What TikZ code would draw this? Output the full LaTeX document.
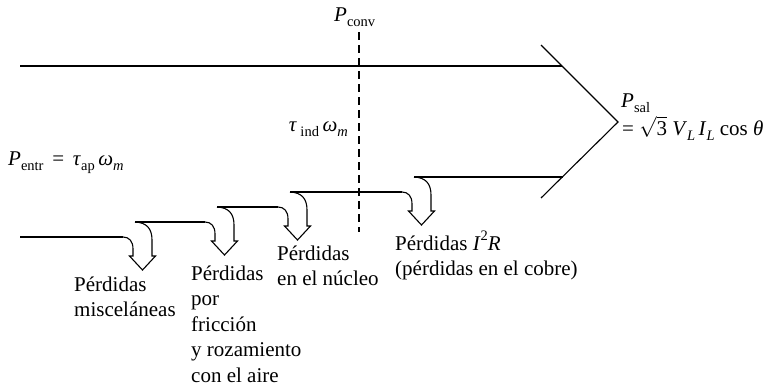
\documentclass[tikz,border=0pt]{standalone}
\usepackage{fontspec}
\setmainfont{Liberation Serif}
\newcommand\sbs[1]{\raisebox{-0.28em}{\fontsize{14.5}{14.5}\selectfont #1}}
\newcommand\sps[1]{\raisebox{0.45em}{\fontsize{14.5}{14.5}\selectfont #1}}
\newcommand\stacklines[1]{\vtop{\halign{##\hfil\cr #1\crcr}}}
\tikzset{
  lbl/.style={font=\fontsize{21}{25.5}\selectfont, inner sep=0pt},
  flow/.style={line width=1.1pt, line join=miter},
  conv/.style={line width=1.1pt, dash pattern=on 8pt off 5pt},
  loss/.pic={
    \draw[flow] (-10,15) .. controls (-4,15) and (0,19) .. (0,27) -- (0,34)
      -- (-3.5,34) -- (9.5,48) -- (22.5,34) -- (19,34) -- (19,18)
      .. controls (19,7) and (14,0.5) .. (2,0);
  }
}
\begin{document}
\begin{tikzpicture}[x=1pt, y=-1pt]
\useasboundingbox (0,0) rectangle (777,389);
% main flow
\coordinate (tl) at (20,66);
\coordinate (tr) at (562,66);
\coordinate (bl) at (20,237);
\coordinate (br) at (563,177);
\coordinate (hu) at (541,45);
\coordinate (ht) at (618,122);
\coordinate (hd) at (541,198);
\draw[flow] (tl) -- (tr);
\draw[flow] (hu) -- (ht) -- (hd);
% loss arrows
\pic at (133,222) {loss};
\pic at (215,207) {loss};
\pic at (288,192) {loss};
\pic at (412,177) {loss};
\draw[flow] (bl) -- (123,237);
\draw[flow] (135,222) -- (205,222);
\draw[flow] (217,207) -- (278,207);
\draw[flow] (290,192) -- (402,192);
\draw[flow] (414,177) -- (br);
% converted power line
\coordinate (ca) at (359,32);
\coordinate (cb) at (359,232);
\draw[conv] (ca) -- (cb);
% labels
\node[lbl, anchor=base west] (pconv) at (334,21) {\textit{P}\sbs{conv}};
\node[lbl, anchor=base east] (tind) at (348,131) {\textit{τ}\,\sbs{ind}\,\textit{ω}\sbs{\textit{m}}};
\node[lbl, anchor=base west] (pentr) at (8,165) {\textit{P}\sbs{entr}\, = \,\textit{τ}\sbs{ap}\,\textit{ω}\sbs{\textit{m}}};
\node[lbl, anchor=base west] (psal) at (621,107) {\textit{P}\sbs{sal}};
\node[lbl, anchor=base west] (eqsal) at (622,135) {= $\sqrt{\mbox{3}}$ \textit{V}\sbs{\textit{L}}\,\textit{I}\sbs{\textit{L}} cos \textit{θ}};
\node[lbl, anchor=base west] (lmisc) at (74,291) {\stacklines{Pérdidas\cr misceláneas}};
\node[lbl, anchor=base west] (lfric) at (191,280) {\stacklines{Pérdidas\cr por\cr fricción\cr y rozamiento\cr con el aire}};
\node[lbl, anchor=base west] (lnuc) at (277,260) {\stacklines{Pérdidas\cr en el núcleo}};
\node[lbl, anchor=base west] (lcu) at (395,250) {\stacklines{Pérdidas \textit{I}\sps{2}\textit{R}\cr (pérdidas en el cobre)}};
\end{tikzpicture}
\end{document}
